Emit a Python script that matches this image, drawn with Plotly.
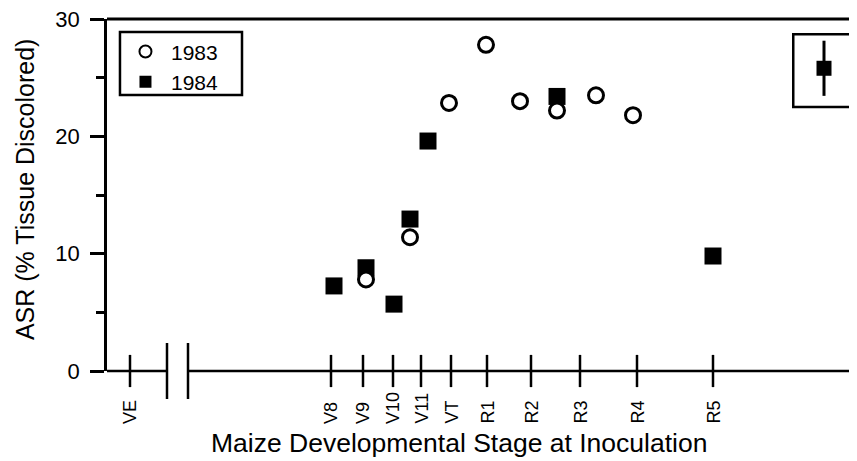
import plotly.graph_objects as go

# Axis positions (arbitrary horizontal units) of the developmental stages
stage_labels = ["VE", "V8", "V9", "V10", "V11", "VT", "R1", "R2", "R3", "R4", "R5"]
stage_pos = [23, 224, 256, 286, 314, 344, 380, 424, 473, 530, 606]
axis_break = [60, 81]

# 1983 series
x_1983 = [259, 303, 342, 379, 413, 450, 489, 526]
y_1983 = [7.8, 11.4, 22.85, 27.8, 23.0, 22.2, 23.5, 21.8]

# 1984 series
x_1984 = [227, 259, 287, 303, 321, 450, 606]
y_1984 = [7.25, 8.8, 5.7, 12.95, 19.6, 23.4, 9.8]

# representative error bar
err_x = [717]
err_y = [25.8]
err_size = [2.35]

x_range = [0, 750]
y_range = [0, 30]

FONT = "Liberation Sans, Arial, Helvetica, sans-serif"
LW = 2.5

fig = go.Figure()

# x-axis tick marks (crossing the axis)
fig.add_trace(go.Scatter(
    x=stage_pos, y=[0] * len(stage_pos), mode="markers",
    marker=dict(symbol="line-ns", size=23, line=dict(width=LW, color="black")),
    cliponaxis=False, showlegend=False, hoverinfo="skip"))

# axis break marks
fig.add_trace(go.Scatter(
    x=axis_break, y=[0] * len(axis_break), mode="markers",
    marker=dict(symbol="line-ns", size=40, line=dict(width=LW, color="black")),
    cliponaxis=False, showlegend=False, hoverinfo="skip"))

fig.add_trace(go.Scatter(
    x=x_1984, y=y_1984, mode="markers", name="1984", legendrank=2,
    marker=dict(symbol="square", size=17, color="black"),
    cliponaxis=False))

fig.add_trace(go.Scatter(
    x=x_1983, y=y_1983, mode="markers", name="1983", legendrank=1,
    marker=dict(symbol="circle", size=15, color="white", line=dict(width=3, color="black")),
    cliponaxis=False))

fig.add_trace(go.Scatter(
    x=err_x, y=err_y, mode="markers", showlegend=False,
    marker=dict(symbol="square", size=15, color="black"),
    error_y=dict(type="data", array=err_size, visible=True, color="black", thickness=3, width=0)))

shapes = [
    # top frame line
    dict(type="line", xref="paper", yref="paper", x0=0, x1=1, y0=1, y1=1,
         line=dict(color="black", width=3)),
    # x axis line with gap at the break
    dict(type="line", xref="x", yref="paper", x0=x_range[0], x1=axis_break[0], y0=0, y1=0,
         line=dict(color="black", width=LW)),
    dict(type="line", xref="x", yref="paper", x0=axis_break[1], x1=x_range[1], y0=0, y1=0,
         line=dict(color="black", width=LW)),
    # box around representative error bar
    dict(type="rect", xref="paper", yref="paper", x0=0.915, x1=0.991, y0=0.75, y1=0.957,
         line=dict(color="black", width=LW)),
    # legend frame
    dict(type="rect", xref="paper", yref="paper", x0=0.0173, x1=0.18, y0=0.784, y1=0.963,
         line=dict(color="black", width=LW)),
]

annotations = []
for pos, lab in zip(stage_pos, stage_labels):
    annotations.append(dict(
        x=pos, y=0, xref="x", yref="paper", text=lab, textangle=-90,
        showarrow=False, xanchor="center", yanchor="bottom", yshift=-55,
        font=dict(family=FONT, size=18, color="black")))

annotations.append(dict(
    x=0.469, y=0, xref="paper", yref="paper", yshift=-72,
    text="Maize Developmental Stage at Inoculation", showarrow=False,
    xanchor="center", yanchor="middle", font=dict(family=FONT, size=26.5, color="black")))
annotations.append(dict(
    x=0, y=0.514, xref="paper", yref="paper", xshift=-82,
    text="ASR (% Tissue Discolored)", textangle=-90, showarrow=False,
    xanchor="center", yanchor="middle", font=dict(family=FONT, size=25, color="black")))

fig.update_layout(
    width=849, height=453,
    margin=dict(l=99, r=0, t=11, b=90),
    paper_bgcolor="white", plot_bgcolor="white",
    font=dict(family=FONT, color="black"),
    xaxis=dict(range=x_range, showgrid=False, zeroline=False, showline=False,
               showticklabels=False, ticks=""),
    yaxis=dict(range=y_range, showgrid=False, zeroline=False, showline=True,
               linecolor="black", linewidth=LW, ticks="outside", ticklen=14,
               tickwidth=LW, tickcolor="black", tickvals=[0, 10, 20, 30],
               tickfont=dict(family=FONT, size=22, color="black"),
               ticklabelstandoff=6, ticklabeloverflow="allow",
               minor=dict(tickvals=[5, 15, 25], ticks="outside", ticklen=8,
                          tickwidth=LW, tickcolor="black")),
    legend=dict(x=0.0173, y=0.965, xanchor="left", yanchor="top",
                borderwidth=0, bgcolor="rgba(0,0,0,0)",
                font=dict(family=FONT, size=21, color="black"),
                tracegroupgap=0, itemsizing="constant", itemwidth=41),
    shapes=shapes,
    annotations=annotations,
)

fig.write_html("out.html")
